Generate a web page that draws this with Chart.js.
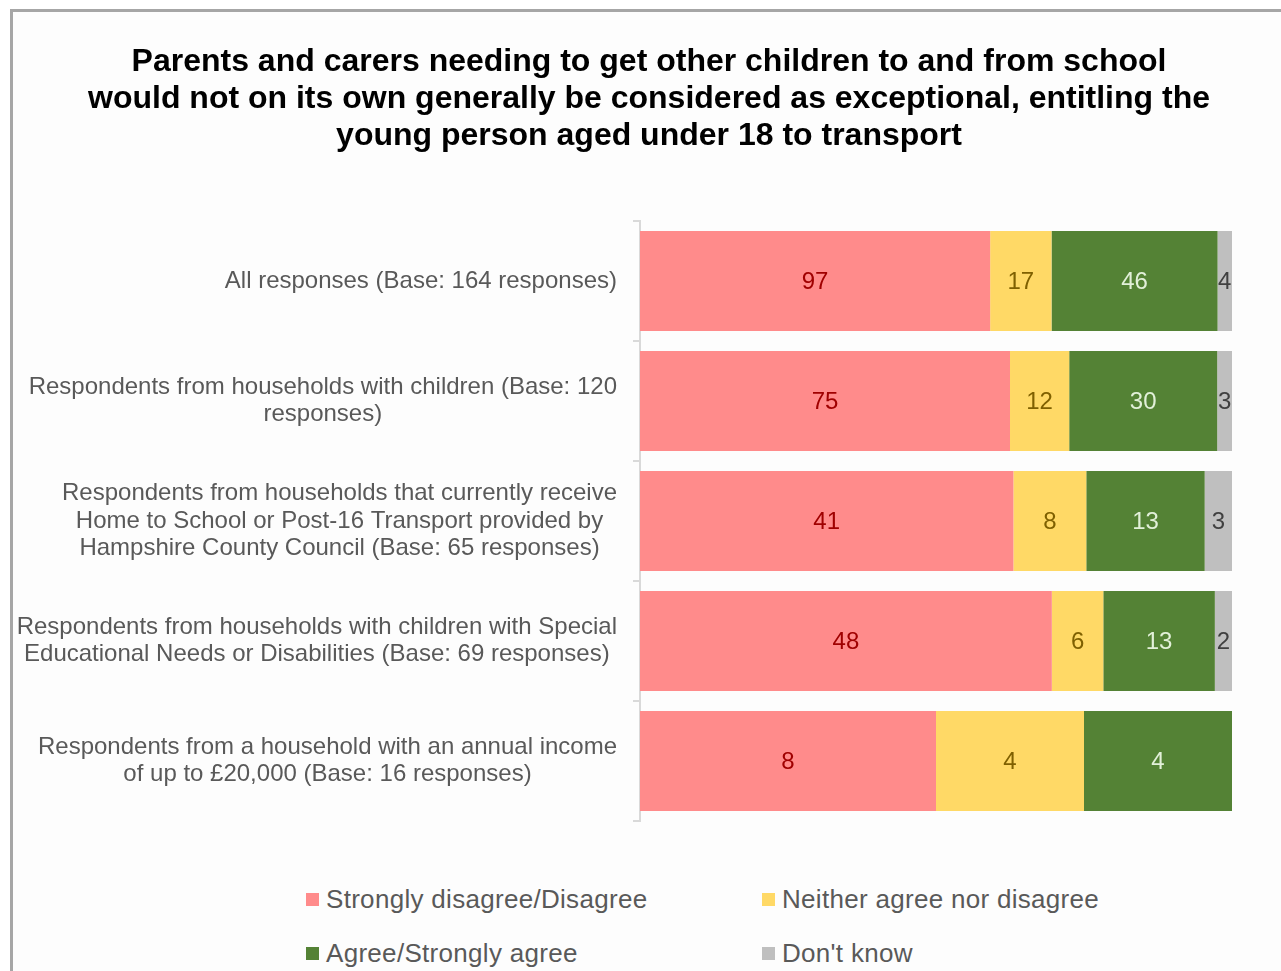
<!DOCTYPE html>
<html>
<head>
<meta charset="utf-8">
<script src="https://cdn.jsdelivr.net/npm/chart.js@4"></script>
<style>
  html, body { margin: 0; padding: 0; background: #fff; overflow: hidden; }
  #frame {
    position: absolute; left: 10px; top: 9px; width: 1300px; height: 1000px;
    border-left: 3px solid #a6a6a6; border-top: 3px solid #a6a6a6;
    background: #fdfdfd;
  }
  #wrap { position: absolute; left: 0; top: 0; width: 1268px; height: 840px; }
  #legend {
    position: absolute; left: 0; top: 0; width: 1268px; height: 140px;
    font-family: "Liberation Sans", Arial, sans-serif; font-size: 26px; letter-spacing: 0.3px; color: #595959;
  }
  .item { position: absolute; display: flex; align-items: center; white-space: nowrap; }
  .box { width: 13px; height: 13px; margin-right: 7px; }
</style>
</head>
<body>
<div id="frame">
  <div id="wrap"><canvas id="chart"></canvas></div>
  <div id="legend"></div>
</div>
<script>
// === DATOS ===
const categorias = [
    ["All responses (Base: 164 responses)"],
    ["Respondents from households with children (Base: 120", "responses)"],
    ["Respondents from households that currently receive", "Home to School or Post-16 Transport provided by", "Hampshire County Council (Base: 65 responses)"],
    ["Respondents from households with children with Special", "Educational Needs or Disabilities (Base: 69 responses)"],
    ["Respondents from a household with an annual income", "of up to £20,000 (Base: 16 responses)"]
];
const series = ["Strongly disagree/Disagree", "Neither agree nor disagree", "Agree/Strongly agree", "Don't know"];
const desacuerdo = [97, 75, 41, 48, 8];
const neutral = [17, 12, 8, 6, 4];
const acuerdo = [46, 30, 13, 13, 4];
const noSabe = [4, 3, 3, 2, 0];

const colores = ["#ff8b8b", "#ffd966", "#548235", "#bfbfbf"];
const coloresTexto = ["#a00000", "#7f6000", "#e2f0d9", "#404040"];

// === PORCENTAJES (barras al 100%) ===
const conteos = [desacuerdo, neutral, acuerdo, noSabe];
const totales = desacuerdo.map((_, i) => conteos.reduce((a, s) => a + s[i], 0));
const datasets = conteos.map((s, k) => ({
    label: series[k],
    data: s.map((v, i) => v / totales[i] * 100),
    conteo: s,
    backgroundColor: colores[k],
    textColor: coloresTexto[k],
    barPercentage: 0.833,
    categoryPercentage: 1
}));

const FUENTE = "'Liberation Sans', Arial, sans-serif";

// === ETIQUETAS DE DATOS Y DEL EJE ===
const etiquetas = {
    id: "etiquetas",
    afterDatasetsDraw(chart) {
        const ctx = chart.ctx;
        ctx.save();
        ctx.font = "24px " + FUENTE;
        ctx.textAlign = "center";
        ctx.textBaseline = "middle";
        chart.data.datasets.forEach((ds, k) => {
            chart.getDatasetMeta(k).data.forEach((el, i) => {
                const v = ds.conteo[i];
                if (!v) return;
                ctx.fillStyle = ds.textColor;
                ctx.fillText(String(v), (el.x + el.base) / 2, el.y + 1);
            });
        });

        // categorías: bloque alineado a la derecha, líneas centradas
        const y = chart.scales.y;
        const derecha = chart.chartArea.left - 23;
        ctx.fillStyle = "#595959";
        const alto = 27.5;
        chart.data.labels.forEach((lineas, i) => {
            const ancho = Math.max(...lineas.map(l => ctx.measureText(l).width));
            const cx = derecha - ancho / 2;
            const cy = y.getPixelForValue(i);
            lineas.forEach((l, j) => {
                ctx.fillText(l, cx, cy + (j - (lineas.length - 1) / 2) * alto);
            });
        });
        ctx.restore();
    }
};

const chart = new Chart(document.getElementById("chart"), {
    type: "bar",
    data: { labels: categorias, datasets },
    plugins: [etiquetas],
    options: {
        indexAxis: "y",
        responsive: true,
        maintainAspectRatio: false,
        animation: false,
        layout: { padding: { left: 53, right: 49, top: 0, bottom: 31 } },
        scales: {
            x: { stacked: true, min: 0, max: 100, display: false },
            y: {
                stacked: true,
                afterFit(scale) { scale.width = 574; },
                grid: { drawOnChartArea: false, drawTicks: true, tickLength: 7, color: "#d9d9d9", lineWidth: 2 },
                border: { display: true, color: "#d9d9d9", width: 2 },
                ticks: { display: false }
            }
        },
        plugins: {
            legend: { display: false },
            tooltip: { enabled: false },
            title: {
                display: true,
                text: [
                    "Parents and carers needing to get other children to and from school",
                    "would not on its own generally be considered as exceptional, entitling the",
                    "young person aged under 18 to transport"
                ],
                color: "#000",
                font: { family: FUENTE, size: 32, weight: "bold", lineHeight: 1.156 },
                padding: { top: 32, bottom: 66 }
            }
        }
    }
});

// === LEYENDA ===
const posiciones = [[293, 887], [749, 887], [293, 941], [749, 941]];
const leyenda = document.getElementById("legend");
series.forEach((s, k) => {
    const d = document.createElement("div");
    d.className = "item";
    d.style.left = posiciones[k][0] + "px";
    d.style.top = (posiciones[k][1] - 15) + "px";
    d.innerHTML = `<span class="box" style="background:${colores[k]}"></span><span>${s}</span>`;
    leyenda.appendChild(d);
});
</script>
</body>
</html>
